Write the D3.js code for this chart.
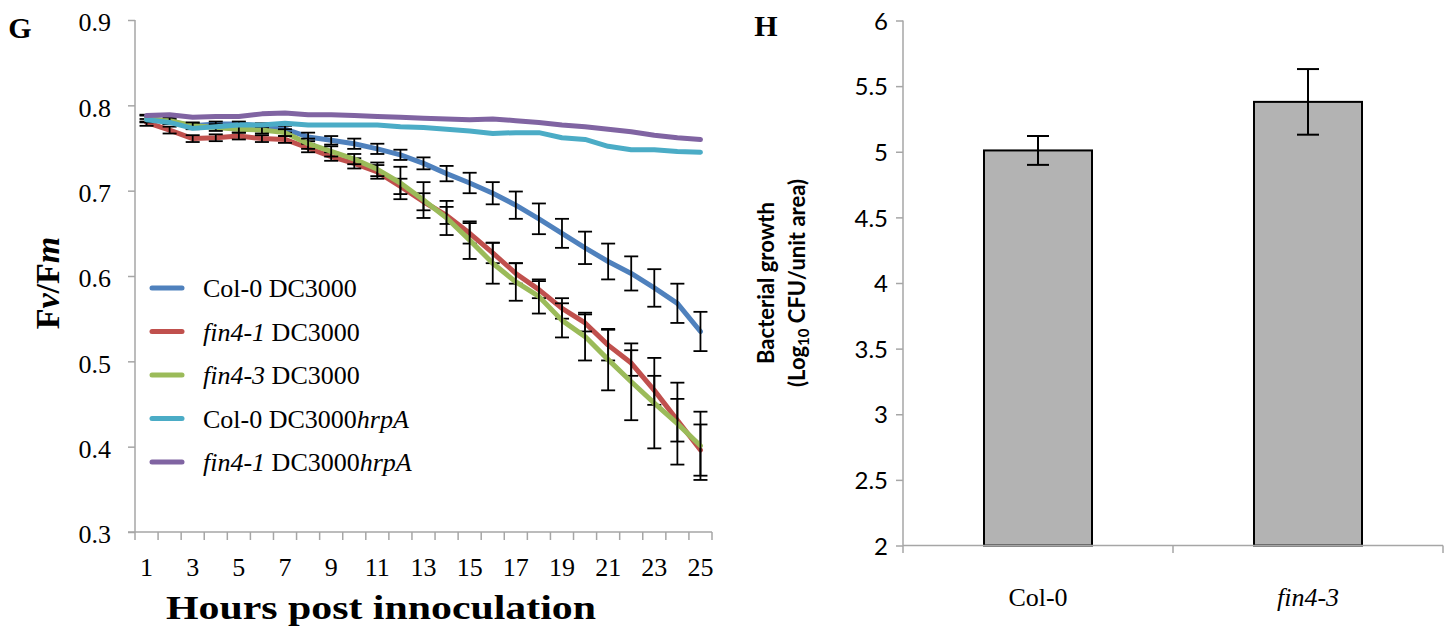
<!DOCTYPE html>
<html><head><meta charset="utf-8">
<script src="https://cdn.jsdelivr.net/npm/d3@7"></script>
<style>body{margin:0;background:#fff} svg{display:block}</style>
</head><body><svg id="c" width="1452" height="627"></svg>
<script>
// ---------- Panel G data ----------
const hours = [1,2,3,4,5,6,7,8,9,10,11,12,13,14,15,16,17,18,19,20,21,22,23,24,25];
const xTickLabels = [1,3,5,7,9,11,13,15,17,19,21,23,25];
const yTicksG = [0.3,0.4,0.5,0.6,0.7,0.8,0.9];
const seriesNames = ["Col-0 DC3000","fin4-1 DC3000","fin4-3 DC3000","Col-0 DC3000hrpA","fin4-1 DC3000hrpA"];
const col0DC = [0.785,0.781,0.776,0.778,0.778,0.776,0.772,0.763,0.759,0.755,0.749,0.742,0.732,0.720,0.709,0.697,0.683,0.667,0.650,0.633,0.617,0.603,0.586,0.568,0.535];
const fin41DC = [0.780,0.771,0.761,0.762,0.764,0.761,0.760,0.750,0.740,0.732,0.722,0.705,0.687,0.671,0.650,0.627,0.603,0.584,0.562,0.545,0.519,0.498,0.466,0.431,0.396];
const fin43DC = [0.784,0.782,0.776,0.774,0.772,0.771,0.768,0.755,0.746,0.737,0.725,0.709,0.689,0.668,0.642,0.615,0.593,0.576,0.548,0.529,0.502,0.476,0.451,0.427,0.401];
const col0Hrp = [0.783,0.780,0.773,0.775,0.777,0.777,0.779,0.777,0.777,0.777,0.777,0.775,0.774,0.772,0.770,0.767,0.768,0.768,0.762,0.760,0.752,0.748,0.748,0.746,0.745];
const fin41Hrp = [0.788,0.789,0.786,0.787,0.787,0.790,0.791,0.789,0.789,0.788,0.787,0.786,0.785,0.784,0.783,0.784,0.782,0.780,0.777,0.775,0.772,0.769,0.765,0.762,0.760];
const errCol0DC = [0.004,0.003,0.003,0.003,0.003,0.003,0.004,0.005,0.005,0.006,0.006,0.006,0.007,0.009,0.012,0.013,0.016,0.018,0.017,0.019,0.021,0.020,0.022,0.023,0.023];
const errFin41DC = [0.004,0.004,0.004,0.004,0.004,0.004,0.004,0.005,0.005,0.006,0.008,0.009,0.010,0.010,0.012,0.012,0.012,0.010,0.012,0.010,0.018,0.015,0.017,0.025,0.030];
const errFin43DC = [0.004,0.004,0.004,0.004,0.004,0.004,0.004,0.006,0.006,0.006,0.008,0.019,0.021,0.020,0.022,0.024,0.022,0.020,0.020,0.028,0.036,0.045,0.053,0.048,0.040];

// ---------- Panel H data ----------
const barCats = ["Col-0","fin4-3"];
const barVals = [5.01,5.38];
const barErr = [0.11,0.25];
const yTicksH = [2,2.5,3,3.5,4,4.5,5,5.5,6];

const serif = "'Liberation Serif','Times New Roman',serif";
const sans = "Lato,'Open Sans','Liberation Sans',sans-serif";
const axisCol = "#a6a6a6";
const colors = ["#4F81BD","#C0504D","#9BBB59","#4BACC6","#8064A2"];

const svg = d3.select("#c");

// ================= Panel G =================
const x = d3.scaleBand().domain(hours).range([135,712]);
const y = d3.scaleLinear().domain([0.3,0.9]).range([532,20]);
const cx = h => x(h) + x.bandwidth()/2;

// y axis
const gy = svg.append("g").attr("transform","translate(135,0)")
  .call(d3.axisLeft(y).tickValues(yTicksG).tickSize(7).tickPadding(17).tickFormat(d3.format(".1f")));
gy.select(".domain").attr("stroke",axisCol).attr("stroke-width",1.5).attr("d","M0,20V532");
gy.selectAll(".tick line").attr("stroke",axisCol).attr("stroke-width",1.5);
gy.selectAll(".tick text").attr("font-family",serif).attr("font-size",26).attr("fill","#000").attr("dy","0.42em");

// x axis
svg.append("line").attr("x1",x.range()[0]-7).attr("x2",x.range()[1]).attr("y1",532).attr("y2",532)
  .attr("stroke",axisCol).attr("stroke-width",1.5);
const bounds = hours.map(h => x(h)).concat([x.range()[1]]);
svg.append("g").selectAll("line").data(bounds).join("line")
  .attr("x1",d=>d).attr("x2",d=>d).attr("y1",532).attr("y2",540)
  .attr("stroke",axisCol).attr("stroke-width",1.5);
svg.append("g").selectAll("text").data(xTickLabels).join("text")
  .attr("x",d=>cx(d)).attr("y",567).attr("dy","0.35em").attr("text-anchor","middle")
  .attr("font-family",serif).attr("font-size",26).text(d=>d);

// series
const seriesVals = [col0DC,fin41DC,fin43DC,col0Hrp,fin41Hrp];
const seriesErr = [errCol0DC,errFin41DC,errFin43DC,null,null];
const line = d3.line().x(d=>cx(d.h)).y(d=>y(d.v));
seriesVals.forEach((vals,i)=>{
  const data = hours.map((h,j)=>({h, v: vals[j], e: seriesErr[i] ? seriesErr[i][j] : 0}));
  svg.append("path").datum(data).attr("d",line).attr("fill","none")
    .attr("stroke",colors[i]).attr("stroke-width",5)
    .attr("stroke-linejoin","round").attr("stroke-linecap","round");
  if (seriesErr[i]) {
    const eg = svg.append("g").attr("stroke","#000").attr("stroke-width",1.8);
    data.forEach(d=>{
      const xc = cx(d.h), y1 = y(d.v + d.e), y2 = y(d.v - d.e);
      eg.append("line").attr("x1",xc).attr("x2",xc).attr("y1",y1).attr("y2",y2);
      eg.append("line").attr("x1",xc-7).attr("x2",xc+7).attr("y1",y1).attr("y2",y1);
      eg.append("line").attr("x1",xc-7).attr("x2",xc+7).attr("y1",y2).attr("y2",y2);
    });
  }
});

// legend
const legendParts = [
  [["Col-0 DC3000",false]],
  [["fin4-1",true],[" DC3000",false]],
  [["fin4-3",true],[" DC3000",false]],
  [["Col-0 DC3000",false],["hrpA",true]],
  [["fin4-1",true],[" DC3000",false],["hrpA",true]]
];
legendParts.forEach((parts,i)=>{
  const ly = 288 + i*43.5;
  svg.append("line").attr("x1",152).attr("x2",182).attr("y1",ly).attr("y2",ly)
    .attr("stroke",colors[i]).attr("stroke-width",5).attr("stroke-linecap","round");
  const t = svg.append("text").attr("x",203).attr("y",ly).attr("dy","0.35em")
    .attr("font-family",serif).attr("font-size",26);
  parts.forEach(p=>t.append("tspan").attr("font-style",p[1]?"italic":"normal").text(p[0]));
});

// titles G
const ty = svg.append("text").attr("transform","translate(47,283) rotate(-90)")
  .attr("text-anchor","middle").attr("dy","0.35em")
  .attr("font-family",serif).attr("font-size",34).attr("font-weight","bold");
ty.append("tspan").text("F");
ty.append("tspan").attr("font-style","italic").text("v");
ty.append("tspan").text("/F");
ty.append("tspan").attr("font-style","italic").text("m");

svg.append("text").attr("x",381).attr("y",607).attr("dy","0.35em").attr("text-anchor","middle")
  .attr("font-family",serif).attr("font-size",34).attr("font-weight","bold")
  .attr("textLength",430).attr("lengthAdjust","spacingAndGlyphs")
  .text("Hours post innoculation");

svg.append("text").attr("x",20).attr("y",27).attr("dy","0.35em").attr("text-anchor","middle")
  .attr("font-family",serif).attr("font-size",30).attr("font-weight","bold").text("G");

// ================= Panel H =================
const xb = d3.scaleBand().domain(barCats).range([903,1443]);
const yb = d3.scaleLinear().domain([2,6]).range([545.5,20.5]);
const bw = xb.bandwidth()*0.4;
const bcx = c => xb(c) + xb.bandwidth()/2;

const gyb = svg.append("g").attr("transform","translate(903,0)")
  .call(d3.axisLeft(yb).tickValues(yTicksH).tickSize(7).tickPadding(8).tickFormat(d=>String(d)));
gyb.select(".domain").attr("stroke",axisCol).attr("stroke-width",1.5).attr("d","M0,20.5V545.5");
gyb.selectAll(".tick line").attr("stroke",axisCol).attr("stroke-width",1.5);
gyb.selectAll(".tick text").attr("font-family",sans).attr("font-size",24).attr("fill","#000").attr("dy","0.36em");

// bars
svg.append("g").selectAll("rect").data(barCats).join("rect")
  .attr("x",c=>bcx(c)-bw/2).attr("width",bw)
  .attr("y",(c,i)=>yb(barVals[i])).attr("height",(c,i)=>yb(2)-yb(barVals[i]))
  .attr("fill","#b3b3b3").attr("stroke","#000").attr("stroke-width",2);

svg.append("line").attr("x1",903).attr("x2",1443).attr("y1",545.5).attr("y2",545.5)
  .attr("stroke",axisCol).attr("stroke-width",1.5);
const bBounds = barCats.map(c=>xb(c)).concat([xb.range()[1]]);
svg.append("g").selectAll("line").data(bBounds).join("line")
  .attr("x1",d=>d).attr("x2",d=>d).attr("y1",545.5).attr("y2",553)
  .attr("stroke",axisCol).attr("stroke-width",1.5);

// error bars
const ebg = svg.append("g").attr("stroke","#000").attr("stroke-width",2);
barCats.forEach((c,i)=>{
  const xc = bcx(c), y1 = yb(barVals[i]+barErr[i]), y2 = yb(barVals[i]-barErr[i]);
  ebg.append("line").attr("x1",xc).attr("x2",xc).attr("y1",y1).attr("y2",y2);
  ebg.append("line").attr("x1",xc-11).attr("x2",xc+11).attr("y1",y1).attr("y2",y1);
  ebg.append("line").attr("x1",xc-11).attr("x2",xc+11).attr("y1",y2).attr("y2",y2);
});

// x labels
svg.append("g").selectAll("text").data(barCats).join("text")
  .attr("x",c=>bcx(c)).attr("y",597).attr("dy","0.35em").attr("text-anchor","middle")
  .attr("font-family",serif).attr("font-size",26)
  .attr("font-style",(c,i)=>i===1?"italic":"normal").text(c=>c);

// y title H
svg.append("text").attr("transform","translate(766,283) rotate(-90)")
  .attr("text-anchor","middle").attr("dy","0.35em")
  .attr("font-family",sans).attr("font-size",22).attr("font-weight","bold").text("Bacterial growth");
const tH2 = svg.append("text").attr("transform","translate(797,283) rotate(-90)")
  .attr("text-anchor","middle").attr("dy","0.35em")
  .attr("font-family",sans).attr("font-size",22).attr("font-weight","bold");
tH2.append("tspan").text("(Log");
tH2.append("tspan").attr("font-size",15).attr("dy","0.3em").text("10");
tH2.append("tspan").attr("dy","-0.2em").text(" CFU/unit area)");

svg.append("text").attr("x",766).attr("y",25).attr("dy","0.35em").attr("text-anchor","middle")
  .attr("font-family",serif).attr("font-size",30).attr("font-weight","bold").text("H");
</script></body></html>
